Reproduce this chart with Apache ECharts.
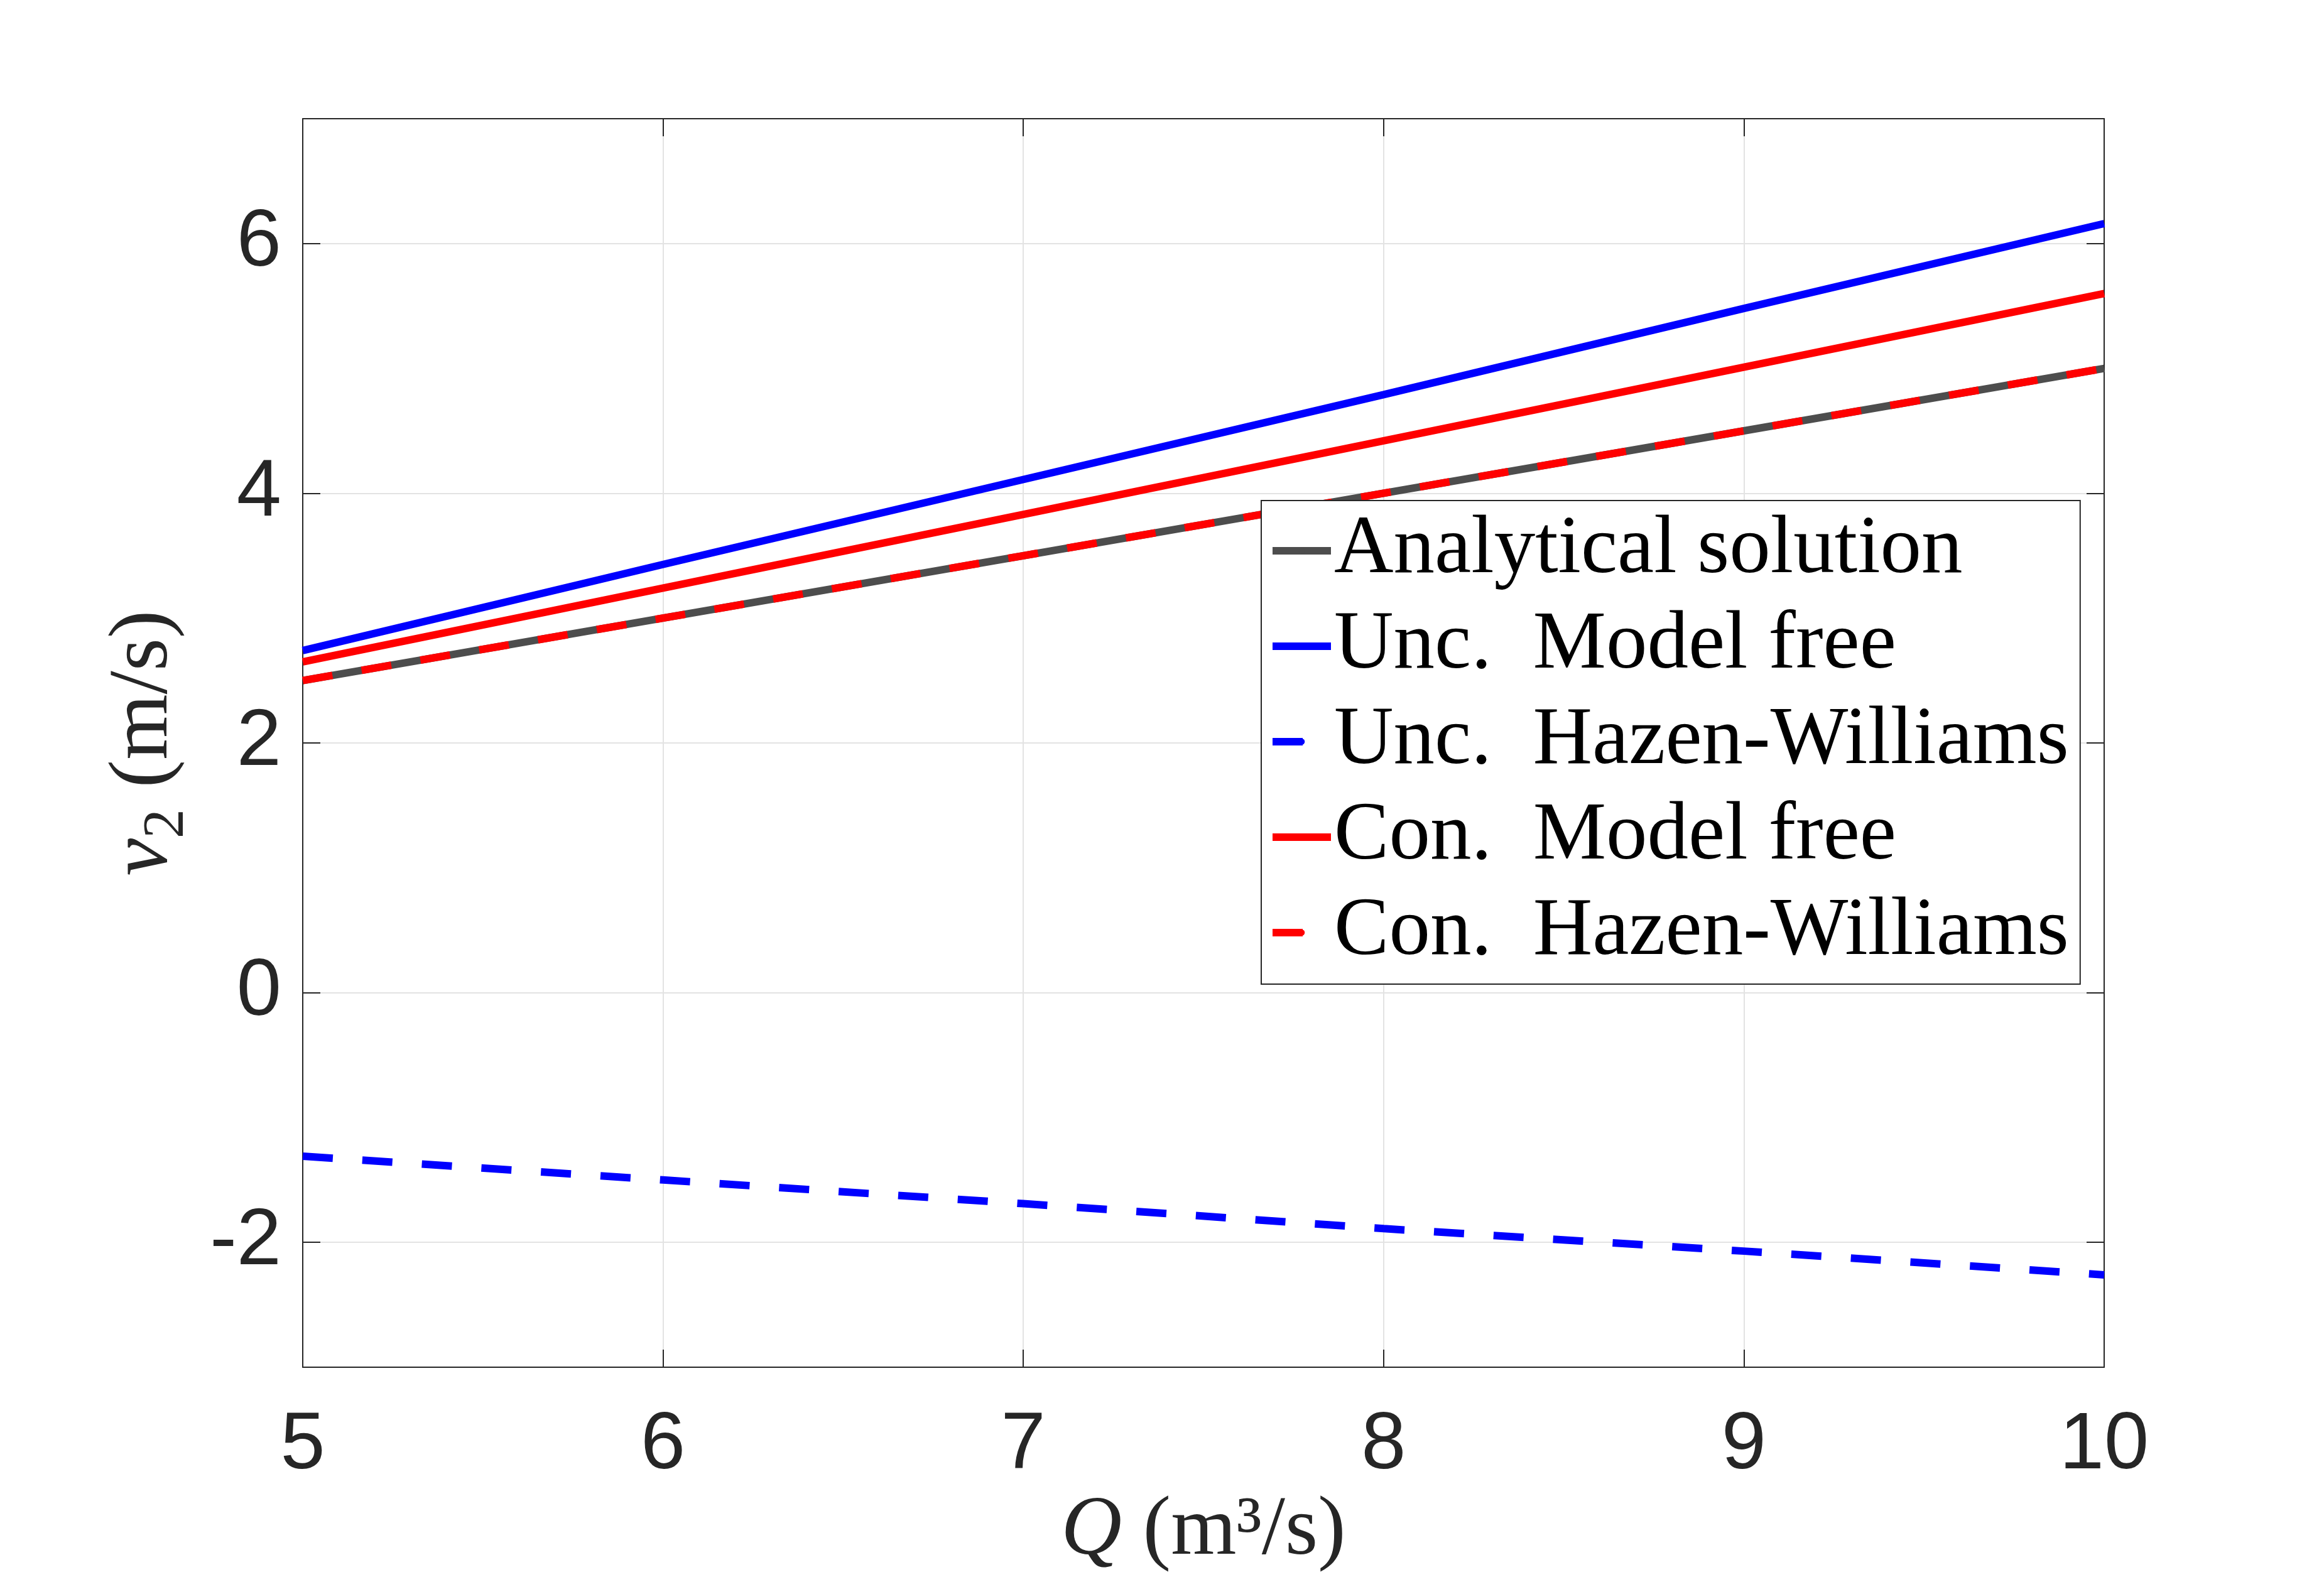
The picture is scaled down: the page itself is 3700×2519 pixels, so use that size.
<!DOCTYPE html>
<html>
<head>
<meta charset="utf-8">
<title>v2 vs Q</title>
<script src="https://cdn.jsdelivr.net/npm/echarts@6.0.0/dist/echarts.min.js"></script>
<style>
  html, body { margin: 0; padding: 0; background: #fff; }
  #main { width: 3700px; height: 2519px; }
</style>
</head>
<body>
<div id="main"></div>
<script>
// flow rate Q (m^3/s)
var flowQ = [5, 6, 7, 8, 9, 10];

// velocity v2 (m/s)
var analytical   = [2.50, 3.00, 3.50, 4.00, 4.50, 5.00];
var uncModelFree = [2.74, 3.43, 4.11, 4.79, 5.48, 6.16];
var uncHazenW    = [-1.31, -1.50, -1.69, -1.89, -2.07, -2.26];
var conModelFree = [2.65, 3.24, 3.83, 4.42, 5.01, 5.60];
var conHazenW    = [2.50, 3.00, 3.50, 4.00, 4.50, 5.00];

var seriesNames = [
    'Analytical solution',
    'Unc.  Model free',
    'Unc.  Hazen-Williams',
    'Con.  Model free',
    'Con.  Hazen-Williams'
];

function pairs(ys) {
    return flowQ.map(function (q, i) { return [q, ys[i]]; });
}

var axisColor = '#262626';
var serif = 'Liberation Serif';
var sans = 'Liberation Sans';
var dash = [48, 47];

var myChart = echarts.init(document.getElementById('main'), null, { renderer: 'canvas' });

var mirrorTick = { show: true, inside: true, length: 28, lineStyle: { color: axisColor, width: 2 } };

var option = {
    animation: false,
    backgroundColor: '#fff',
    grid: {
        left: 482,
        top: 189,
        right: 350,
        bottom: 342,
        containLabel: false
    },
    legend: {
        orient: 'vertical',
        left: 2008,
        top: 797,
        padding: [4, 18, 6, 12],
        itemGap: 0,
        itemWidth: 93,
        itemHeight: 12,
        backgroundColor: '#fff',
        borderColor: axisColor,
        borderWidth: 2,
        borderRadius: 0,
        data: seriesNames,
        lineStyle: { width: 12 },
        textStyle: {
            fontFamily: serif,
            fontSize: 131,
            color: '#000',
            lineHeight: 152
        }
    },
    xAxis: [
        {
            type: 'value',
            min: 5,
            max: 10,
            interval: 1,
            position: 'bottom',
            name: '{i|Q}{t| (m³/s)}',
            nameLocation: 'middle',
            nameGap: 186,
            nameTextStyle: {
                color: axisColor,
                rich: {
                    i: { fontFamily: serif, fontStyle: 'italic', fontSize: 134, color: axisColor, lineHeight: 134 },
                    t: { fontFamily: serif, fontSize: 134, color: axisColor, lineHeight: 134 }
                }
            },
            axisLine: { show: true, onZero: false, lineStyle: { color: axisColor, width: 2 } },
            axisTick: mirrorTick,
            axisLabel: { fontFamily: sans, fontSize: 128, color: axisColor, margin: 62 },
            splitLine: { show: true, lineStyle: { color: '#e3e3e3', width: 2 } }
        },
        {
            type: 'value',
            min: 5,
            max: 10,
            interval: 1,
            position: 'top',
            axisLine: { show: true, onZero: false, lineStyle: { color: axisColor, width: 2 } },
            axisTick: mirrorTick,
            axisLabel: { show: false },
            splitLine: { show: false }
        }
    ],
    yAxis: [
        {
            type: 'value',
            min: -3,
            max: 7,
            splitNumber: 5,
            position: 'left',
            name: '{i|v}{s|2}{t| (m/s)}',
            nameLocation: 'middle',
            nameRotate: 90,
            nameGap: 113,
            nameTextStyle: {
                color: axisColor,
                rich: {
                    i: { fontFamily: serif, fontStyle: 'italic', fontSize: 134, color: axisColor, lineHeight: 134, verticalAlign: 'top' },
                    s: { fontFamily: serif, fontSize: 94, color: axisColor, lineHeight: 206, verticalAlign: 'middle' },
                    t: { fontFamily: serif, fontSize: 134, color: axisColor, lineHeight: 134, verticalAlign: 'top' }
                }
            },
            axisLine: { show: true, onZero: false, lineStyle: { color: axisColor, width: 2 } },
            axisTick: mirrorTick,
            axisLabel: { fontFamily: sans, fontSize: 128, color: axisColor, margin: 34, showMinLabel: false, showMaxLabel: false },
            splitLine: { show: true, lineStyle: { color: '#e3e3e3', width: 2 } }
        },
        {
            type: 'value',
            min: -3,
            max: 7,
            splitNumber: 5,
            position: 'right',
            axisLine: { show: true, onZero: false, lineStyle: { color: axisColor, width: 2 } },
            axisTick: mirrorTick,
            axisLabel: { show: false },
            splitLine: { show: false }
        }
    ],
    series: [
        {
            name: seriesNames[0],
            type: 'line',
            symbol: 'none',
            data: pairs(analytical),
            lineStyle: { color: '#4d4d4d', width: 12 },
            itemStyle: { color: '#4d4d4d' }
        },
        {
            name: seriesNames[1],
            type: 'line',
            symbol: 'none',
            data: pairs(uncModelFree),
            lineStyle: { color: '#0000ff', width: 12 },
            itemStyle: { color: '#0000ff' }
        },
        {
            name: seriesNames[2],
            type: 'line',
            symbol: 'none',
            data: pairs(uncHazenW),
            lineStyle: { color: '#0000ff', width: 12, type: dash },
            itemStyle: { color: '#0000ff' }
        },
        {
            name: seriesNames[3],
            type: 'line',
            symbol: 'none',
            data: pairs(conModelFree),
            lineStyle: { color: '#ff0000', width: 12 },
            itemStyle: { color: '#ff0000' }
        },
        {
            name: seriesNames[4],
            type: 'line',
            symbol: 'none',
            data: pairs(conHazenW),
            lineStyle: { color: '#ff0000', width: 12, type: dash },
            itemStyle: { color: '#ff0000' }
        }
    ]
};

myChart.setOption(option);
</script>
</body>
</html>
